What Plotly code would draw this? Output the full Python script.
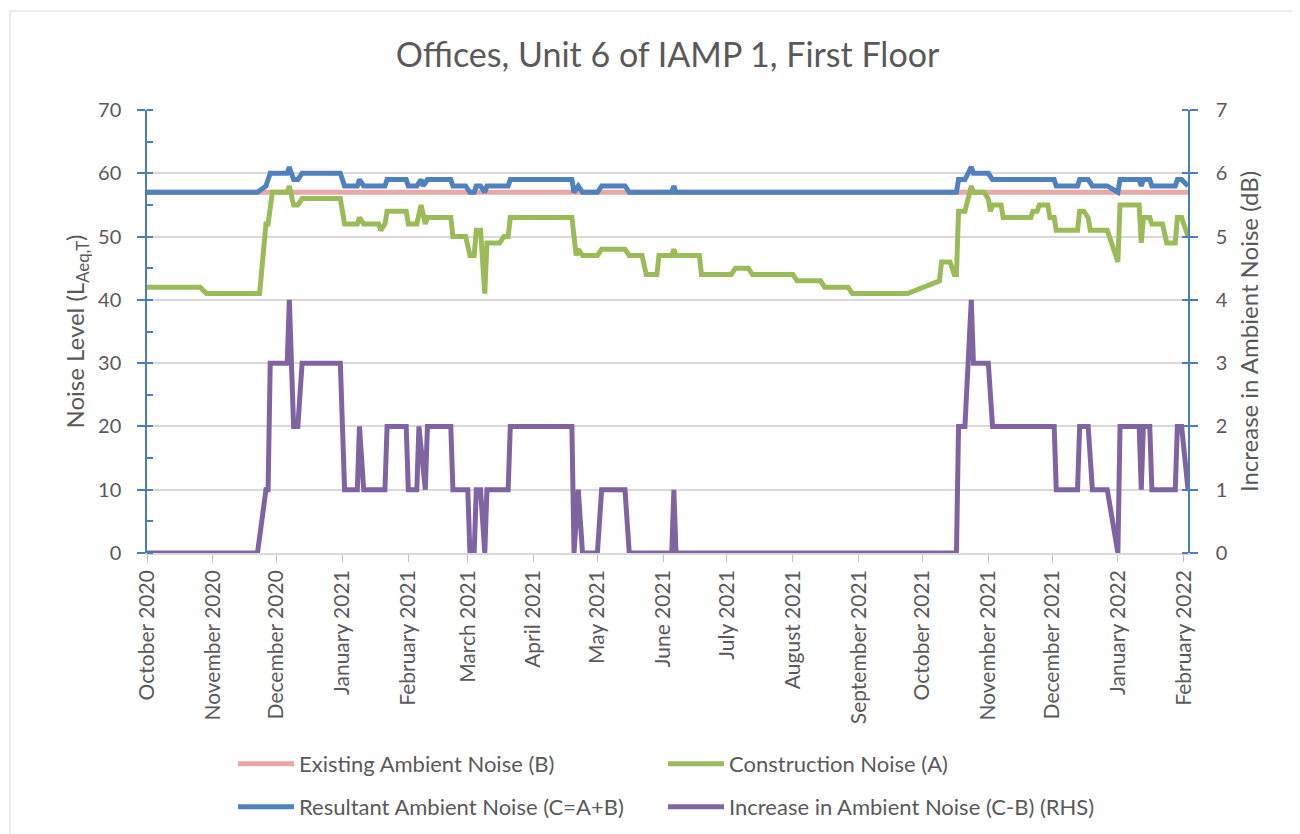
import plotly.graph_objects as go

# ---------------- data ----------------
month_ticks = ["2020-10-01", "2020-11-01", "2020-12-01", "2021-01-01", "2021-02-01",
               "2021-03-01", "2021-04-01", "2021-05-01", "2021-06-01", "2021-07-01",
               "2021-08-01", "2021-09-01", "2021-10-01", "2021-11-01", "2021-12-01",
               "2022-01-01", "2022-02-01"]
month_labels = ["October 2020", "November 2020", "December 2020", "January 2021",
                "February 2021", "March 2021", "April 2021", "May 2021", "June 2021",
                "July 2021", "August 2021", "September 2021", "October 2021",
                "November 2021", "December 2021", "January 2022", "February 2022"]

existing_dates = ["2020-10-01", "2022-02-03"]
existing_vals = [57, 57]

construction_dates = [
    "2020-10-01", "2020-10-26", "2020-10-29", "2020-11-23", "2020-11-26", "2020-11-27",
    "2020-11-29", "2020-12-06", "2020-12-07", "2020-12-09", "2020-12-11", "2020-12-13",
    "2020-12-31", "2021-01-02", "2021-01-08", "2021-01-09", "2021-01-11", "2021-01-18",
    "2021-01-19", "2021-01-21", "2021-01-22", "2021-01-31", "2021-02-01", "2021-02-05",
    "2021-02-07", "2021-02-09", "2021-02-10", "2021-02-21", "2021-02-22", "2021-02-28",
    "2021-03-02", "2021-03-04", "2021-03-05", "2021-03-07", "2021-03-09", "2021-03-10",
    "2021-03-16", "2021-03-18", "2021-03-20", "2021-03-21", "2021-04-19", "2021-04-21",
    "2021-04-22", "2021-04-24", "2021-05-01", "2021-05-03", "2021-05-14", "2021-05-16",
    "2021-05-22", "2021-05-24", "2021-05-29", "2021-05-30", "2021-06-05", "2021-06-06",
    "2021-06-07", "2021-06-18", "2021-06-19", "2021-07-03", "2021-07-05", "2021-07-11",
    "2021-07-13", "2021-08-01", "2021-08-03", "2021-08-14", "2021-08-16", "2021-08-27",
    "2021-08-29", "2021-09-24", "2021-10-09", "2021-10-10", "2021-10-14", "2021-10-16",
    "2021-10-17", "2021-10-18", "2021-10-21", "2021-10-24", "2021-10-25", "2021-10-30",
    "2021-11-01", "2021-11-02", "2021-11-03", "2021-11-07", "2021-11-08", "2021-11-21",
    "2021-11-22", "2021-11-24", "2021-11-25", "2021-11-29", "2021-11-30", "2021-12-02",
    "2021-12-03", "2021-12-13", "2021-12-14", "2021-12-16", "2021-12-18", "2021-12-19",
    "2021-12-27", "2022-01-01", "2022-01-02", "2022-01-11", "2022-01-12", "2022-01-13",
    "2022-01-16", "2022-01-17", "2022-01-22", "2022-01-24", "2022-01-28", "2022-01-29",
    "2022-01-31", "2022-02-03"]
construction_vals = [
    42, 42, 41, 41, 52, 52,
    57, 57, 58, 55, 55, 56,
    56, 52, 52, 53, 52, 52,
    51, 52, 54, 54, 52, 52,
    55, 52, 53, 53, 50, 50,
    47, 47, 51, 51, 41, 49,
    49, 50, 50, 53, 53, 47,
    48, 47, 47, 48, 48, 47,
    47, 44, 44, 47, 47, 48,
    47, 47, 44, 44, 45, 45,
    44, 44, 43, 43, 42, 42,
    41, 41, 43, 46, 46, 44,
    44, 54, 54, 58, 57, 57,
    56, 54, 55, 55, 53, 53,
    54, 54, 55, 55, 53, 53,
    51, 51, 54, 54, 53, 51,
    51, 46, 55, 55, 49, 53,
    53, 52, 52, 49, 49, 53,
    53, 50]

resultant_dates = [
    "2020-10-01", "2020-11-22", "2020-11-26", "2020-11-28", "2020-12-06", "2020-12-07",
    "2020-12-09", "2020-12-11", "2020-12-13", "2020-12-31", "2021-01-02", "2021-01-08",
    "2021-01-09", "2021-01-11", "2021-01-21", "2021-01-22", "2021-01-31", "2021-02-01",
    "2021-02-05", "2021-02-07", "2021-02-08", "2021-02-10", "2021-02-21", "2021-02-22",
    "2021-02-28", "2021-03-02", "2021-03-04", "2021-03-05", "2021-03-07", "2021-03-09",
    "2021-03-10", "2021-03-20", "2021-03-21", "2021-04-19", "2021-04-20", "2021-04-22",
    "2021-04-24", "2021-05-01", "2021-05-03", "2021-05-14", "2021-05-16", "2021-06-05",
    "2021-06-06", "2021-06-07", "2021-10-17", "2021-10-18", "2021-10-21", "2021-10-24",
    "2021-10-25", "2021-11-01", "2021-11-03", "2021-12-02", "2021-12-03", "2021-12-13",
    "2021-12-14", "2021-12-18", "2021-12-20", "2021-12-27", "2022-01-01", "2022-01-02",
    "2022-01-11", "2022-01-12", "2022-01-13", "2022-01-16", "2022-01-17", "2022-01-28",
    "2022-01-29", "2022-01-31", "2022-02-03"]
resultant_vals = [
    57, 57, 58, 60, 60, 61,
    59, 59, 60, 60, 58, 58,
    59, 58, 58, 59, 59, 58,
    58, 59, 58, 59, 59, 58,
    58, 57, 57, 58, 58, 57,
    58, 58, 59, 59, 57, 58,
    57, 57, 58, 58, 57, 57,
    58, 57, 57, 59, 59, 61,
    60, 60, 59, 59, 58, 58,
    59, 59, 58, 58, 57, 59,
    59, 58, 59, 59, 58, 58,
    59, 59, 58]

increase_dates = [
    "2020-10-01", "2020-11-22", "2020-11-26", "2020-11-27", "2020-11-28", "2020-12-06",
    "2020-12-07", "2020-12-09", "2020-12-11", "2020-12-13", "2020-12-31", "2021-01-02",
    "2021-01-08", "2021-01-09", "2021-01-11", "2021-01-21", "2021-01-22", "2021-01-31",
    "2021-02-01", "2021-02-05", "2021-02-06", "2021-02-09", "2021-02-10", "2021-02-21",
    "2021-02-22", "2021-03-01", "2021-03-02", "2021-03-04", "2021-03-05", "2021-03-07",
    "2021-03-09", "2021-03-10", "2021-03-20", "2021-03-21", "2021-04-19", "2021-04-20",
    "2021-04-22", "2021-04-24", "2021-05-01", "2021-05-03", "2021-05-14", "2021-05-16",
    "2021-06-05", "2021-06-06", "2021-06-07", "2021-10-17", "2021-10-18", "2021-10-21",
    "2021-10-24", "2021-10-25", "2021-11-01", "2021-11-03", "2021-12-02", "2021-12-03",
    "2021-12-13", "2021-12-14", "2021-12-18", "2021-12-20", "2021-12-27", "2022-01-01",
    "2022-01-02", "2022-01-11", "2022-01-12", "2022-01-13", "2022-01-16", "2022-01-17",
    "2022-01-28", "2022-01-29", "2022-01-31", "2022-02-03"]
increase_vals = [
    0, 0, 1, 1, 3, 3,
    4, 2, 2, 3, 3, 1,
    1, 2, 1, 1, 2, 2,
    1, 1, 2, 1, 2, 2,
    1, 1, 0, 0, 1, 1,
    0, 1, 1, 2, 2, 0,
    1, 0, 0, 1, 1, 0,
    0, 1, 0, 0, 2, 2,
    4, 3, 3, 2, 2, 1,
    1, 2, 2, 1, 1, 0,
    2, 2, 1, 2, 2, 1,
    1, 2, 2, 1]

# ---------------- styling ----------------
FONT = "Lato"
GREY = "#595959"
AXIS_BLUE = "#4A7EBB"
LW = 5

# page body has an 8px margin, so the figure is offset by 8px
W, H = 1292, 834
PL, PT, PR, PB = 139, 102, 112, 289
PW = W - PL - PR   # plot width in px
PHt = H - PT - PB  # plot height in px


def px_x(x_ref):
    return (x_ref - 8 - PL) / PW


def px_y(y_ref):
    return (H - PB - (y_ref - 8)) / PHt


fig = go.Figure()
fig.add_trace(go.Scatter(x=existing_dates, y=existing_vals, mode="lines",
                         name="Existing Ambient Noise (B)", showlegend=True,
                         line=dict(color="#E6A9A7", width=LW), legend="legend"))
fig.add_trace(go.Scatter(x=construction_dates, y=construction_vals, mode="lines",
                         name="Construction Noise (A)", showlegend=True,
                         line=dict(color="#9BBB59", width=LW), legend="legend2"))
fig.add_trace(go.Scatter(x=resultant_dates, y=resultant_vals, mode="lines",
                         name="Resultant Ambient Noise (C=A+B)", showlegend=True,
                         line=dict(color="#4F81BD", width=LW), legend="legend3"))
fig.add_trace(go.Scatter(x=increase_dates, y=increase_vals, mode="lines",
                         name="Increase in Ambient Noise (C-B) (RHS)", yaxis="y2",
                         showlegend=True,
                         line=dict(color="#8064A2", width=LW), legend="legend4"))

legend_common = dict(orientation="v", xanchor="left", yanchor="middle",
                     font=dict(family=FONT, size=22, color=GREY),
                     bgcolor="rgba(0,0,0,0)", borderwidth=0,
                     itemwidth=56, tracegroupgap=0, visible=True)

COL1, COL2 = 233, 663
ROW1, ROW2 = 764, 807

fig.update_layout(
    width=W, height=H,
    showlegend=True,
    margin=dict(l=PL, r=PR, t=PT, b=PB),
    paper_bgcolor="white", plot_bgcolor="white",
    font=dict(family=FONT, color=GREY),
    title=dict(text="Offices, Unit 6 of IAMP 1, First Floor",
               x=0.5, xref="paper", xanchor="center",
               y=1 - 47 / H, yref="container", yanchor="middle",
               font=dict(family=FONT, size=34, color=GREY)),
    xaxis=dict(type="date", range=["2020-10-01", "2022-02-03"],
               tickmode="array", tickvals=month_ticks, ticktext=month_labels,
               tickangle=-90, ticks="outside", ticklen=7, tickcolor="#BFBFBF",
               tickfont=dict(family=FONT, size=21, color=GREY),
               showgrid=False, showline=True, linecolor="#D9D9D9", linewidth=1.5,
               zeroline=False),
    yaxis=dict(range=[0, 70], dtick=10, tick0=0,
               ticks="outside", ticklen=8, tickcolor=AXIS_BLUE, tickwidth=1.5,
               minor=dict(dtick=5, ticks="inside", ticklen=6, tickcolor=AXIS_BLUE,
                          tickwidth=1.5, showgrid=False),
               tickfont=dict(family=FONT, size=20, color=GREY),
               ticklabelstandoff=12,
               showgrid=True, gridcolor="#D9D9D9", gridwidth=1.5,
               showline=True, linecolor=AXIS_BLUE, linewidth=1.5, zeroline=False,
               title=dict(text="Noise Level (L<sub>Aeq,T</sub>)", standoff=7,
                          font=dict(family=FONT, size=24, color=GREY))),
    yaxis2=dict(range=[0, 7], dtick=1, tick0=0, overlaying="y", side="right",
                ticks="outside", ticklen=8, tickcolor=AXIS_BLUE, tickwidth=1.5,
                minor=dict(dtick=1, ticks="inside", ticklen=6, tickcolor=AXIS_BLUE,
                           tickwidth=1.5, showgrid=False),
                tickfont=dict(family=FONT, size=20, color=GREY),
                ticklabelstandoff=14,
                showgrid=False, showline=True, linecolor=AXIS_BLUE, linewidth=1.5,
                zeroline=False,
                title=dict(text="Increase in Ambient Noise (dB)", standoff=14,
                           font=dict(family=FONT, size=24, color=GREY))),
    legend=dict(x=px_x(COL1), y=px_y(ROW1), **legend_common),
    legend2=dict(x=px_x(COL2), y=px_y(ROW1), **legend_common),
    legend3=dict(x=px_x(COL1), y=px_y(ROW2), **legend_common),
    legend4=dict(x=px_x(COL2), y=px_y(ROW2), **legend_common),
    shapes=[dict(type="rect", xref="paper", yref="paper",
                 x0=px_x(10), x1=px_x(1297),
                 y0=px_y(845), y1=px_y(11),
                 line=dict(color="#D9D9D9", width=1), fillcolor="rgba(0,0,0,0)",
                 layer="below")],
)

fig.write_html("out.html")
